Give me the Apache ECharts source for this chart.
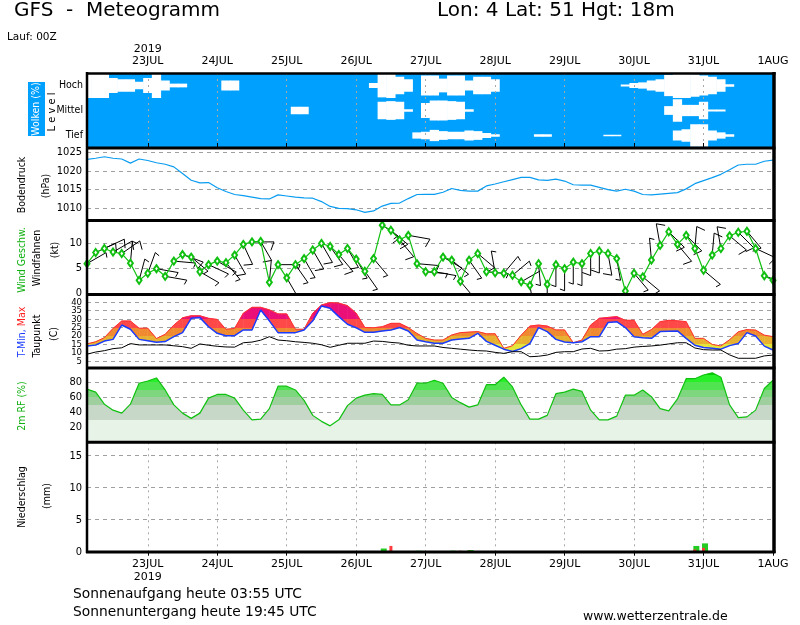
<!DOCTYPE html>
<html><head><meta charset="utf-8">
<script src="https://cdn.jsdelivr.net/npm/echarts@6/dist/echarts.min.js"></script>
<style>html,body{margin:0;padding:0;background:#fff}#c{width:800px;height:625px}</style>
</head><body><div id="c"></div>
<script>
// ---- time steps (hours after 22JUL 00Z) ----
const hours = [3,6,9,12,15,18,21,24,27,30,33,36,39,42,45,48,51,54,57,60,63,66,69,72,75,78,81,84,87,90,93,96,99,102,105,108,111,114,117,120,123,126,129,132,135,138,141,144,147,150,153,156,159,162,165,168,171,174,177,180,183,186,189,192,195,198,201,204,207,210,213,216,219,222,225,228,231,234,237,240];
const dayTicks = [24,48,72,96,120,144,168,192,216,240];
const dayLabels = ['23JUL','24JUL','25JUL','26JUL','27JUL','28JUL','29JUL','30JUL','31JUL','1AUG'];
const pressureTicks = [1010,1015,1020,1025];
const windTicks = [0,5,10];
const tempTicks = [5,10,15,20,25,30,35,40];
const tempLabelsA = [5,15,25,35];
const tempLabelsB = [10,20,30,40];
const rhTicks = [20,40,60,80];
const precipTicks = [0,5,10,15];
const cloudLevels = ['Tief','Mittel','Hoch'];
const tempBandLimits = [15,20,25,30];
const tempBandColors = ['#e4e43c','#e8b030','#f08a30','#ff4848','#ea1078'];

// ---- series values ----
const cloudHigh = [100,100,100,60,50,50,30,60,100,40, 15,15,0,0,0,0,40,40,0,0, 0,0,0,0,0,0,0,0,0,0, 0,0,0,20,95,100,70,50,0,80, 80,55,80,80,40,70,70,50,0,0, 0,0,0,0,0,0,0,0,0,0, 0,0,8,20,25,40,50,85,100,100, 90,80,70,50,10,0,0,0,0,0];
const cloudMid  = [0,0,0,0,0,0,0,0,0,0, 0,0,0,0,0,0,0,0,0,0, 0,0,0,0,30,30,0,0,0,0, 0,0,0,0,70,75,70,10,0,60, 80,80,75,70,10,0,0,0,0,0, 0,0,0,0,0,0,0,0,0,0, 0,0,0,0,0,0,0,35,90,45, 45,70,8,8,0,0,0,0,0,0];
const cloudLow  = [0,0,0,0,0,0,0,0,0,0, 0,0,0,0,0,0,0,0,0,0, 0,0,0,0,0,0,0,0,0,0, 0,0,0,0,0,0,0,0,25,30, 45,35,30,30,40,35,20,10,0,0, 0,0,10,10,0,0,0,0,0,0, 6,6,0,0,0,0,0,0,40,50, 90,90,40,25,10,0,0,0,0,0];
const pressure = [1023.1,1023.4,1023.8,1023.4,1023.2,1022.1,1023.2,1022.8,1022.2,1021.8,
 1021.1,1019.3,1017.5,1016.8,1016.9,1015.5,1014.5,1013.7,1013.4,1013.0,
 1012.6,1012.5,1013.6,1013.3,1013.0,1012.8,1012.7,1011.8,1010.5,1010.0,
 1009.9,1009.6,1008.9,1009.3,1010.6,1011.3,1011.4,1012.6,1013.7,1013.75,
 1013.75,1014.3,1015.3,1014.8,1014.6,1014.6,1016.0,1016.5,1017.1,1017.7,
 1018.3,1018.3,1017.6,1017.5,1017.8,1017.3,1016.3,1016.2,1016.2,1015.6,
 1015.0,1014.6,1015.1,1014.6,1013.7,1013.6,1013.8,1014.0,1014.2,1015.2,
 1016.6,1017.4,1018.2,1019.1,1020.3,1021.6,1021.8,1021.8,1022.6,1022.9];
const windSpeed = [5.9,8.1,8.9,8.2,7.9,6.0,2.6,4.0,4.9,3.4,
 6.4,7.7,7.2,4.3,5.7,6.4,6.1,7.6,9.7,10.2,
 10.3,2.2,5.7,3.1,5.7,6.9,8.6,9.9,9.3,7.7,
 8.9,6.8,4.4,6.9,13.5,12.5,10.6,11.5,5.9,4.3,
 4.3,7.2,6.6,2.4,6.6,7.9,4.3,4.1,4.0,3.6,
 2.3,1.6,5.9,1.8,5.7,4.9,6.2,5.9,7.9,8.4,
 7.9,6.9,0.5,4.0,3.3,6.6,9.5,12.2,9.7,11.5,
 8.9,4.6,7.6,8.9,11.4,12.1,12.3,8.9,3.5,2.6];
const windDir = [60,65,65,60,55, 5,15,20, 100,100,95,110,130, 120,115,120,140, 150,155,90,150, 5,90,150,
 145,150,150,150,145,140,150,150,145,140, 125,130,140, 100,95,95,100, 120,130,140,145,130,
 95,350,40,50,60, 170,175,180,180,180,180,180,180,180,170, 170,175,140,130, 355,350,
 135,140,135,5,130,5, 350,130,135,140,115,110,110];
const tMin = [14.1,14.7,17.0,18.0,26.5,24.0,18.0,17.2,16.3,16.7,
 19.6,22.0,30.5,30.9,25.5,21.6,20.2,20.2,23.6,23.6,
 35.4,29.0,22.0,22.0,22.0,23.6,29.0,37.8,36.4,31.5,
 27.0,24.9,22.2,22.2,23.0,23.6,25.0,23.0,17.6,16.6,
 15.7,15.7,17.6,18.2,18.6,21.6,16.8,14.5,12.2,10.8,
 12.5,15.5,25.0,22.6,18.0,16.5,16.0,16.6,19.6,19.6,
 28.0,28.5,25.0,19.6,19.0,18.6,22.6,22.8,23.0,18.6,
 14.5,13.2,12.7,12.2,14.3,15.5,22.0,20.0,14.0,11.7];
const tMax = [15.3,16.6,19.0,24.5,28.9,28.9,24.6,24.6,18.5,21.0,
 26.5,30.8,32.0,32.0,30.5,29.8,24.0,24.5,33.5,37.0,
 37.0,35.5,33.1,33.1,24.0,24.0,33.5,38.4,39.8,39.5,
 38.0,33.5,25.0,24.9,25.5,27.5,27.5,25.0,21.5,18.6,
 17.6,17.6,20.6,22.0,22.3,22.6,21.3,21.3,12.7,14.2,
 20.5,25.9,26.5,25.9,23.6,23.6,16.0,17.6,26.5,30.5,
 31.0,31.5,29.3,29.3,21.0,23.8,28.5,29.3,29.0,28.5,
 18.6,18.6,15.0,14.1,17.8,22.5,23.8,23.5,20.5,19.6];
const dewPoint = [9.2,10.5,11.3,12.5,13.0,15.5,14.7,14.7,14.7,14.7,
 14.2,13.7,12.7,15.3,14.5,13.9,13.5,13.4,16.0,16.4,
 17.5,19.6,17.6,17.2,16.6,16.2,15.7,14.8,13.3,14.5,
 15.7,15.7,15.7,17.0,16.8,16.2,15.8,14.5,14.1,14.1,
 14.1,13.2,12.7,12.2,11.7,11.3,11.1,10.3,9.7,10.7,
 10.7,7.7,8.0,8.7,10.3,10.7,10.7,12.3,12.7,11.1,
 11.3,12.2,12.5,13.4,13.8,14.1,14.6,15.3,16.0,16.0,
 12.9,11.9,11.7,11.7,8.8,6.8,6.8,6.8,8.2,8.7];
const relHum = [71,67,51,43,39,51,79,82,86,70,
 50,39,32,39,59,64,64,59,43,30,
 31,45,75,75,70,56,36,28,22,30,
 49,59,63,65,64,50,50,57,79,79,
 83,79,60,53,47,50,77,77,87,74,
 50,31,31,36,65,67,71,68,43,30,
 30,35,63,63,70,61,45,42,58,85,
 85,90,93,87,50,33,34,43,72,83];
const precipGreen = [0,0,0,0,0,0,0,0,0,0, 0,0,0,0,0,0,0,0,0,0, 0,0,0,0,0,0,0,0,0,0, 0,0,0,0,0.5,0,0,0,0.15,0, 0,0,0.15,0,0.25,0,0,0,0,0, 0,0,0,0,0,0,0,0,0,0, 0,0,0,0,0,0,0,0,0,0, 0.9,1.3,0,0,0,0,0,0,0,0];
const precipRed   = [0,0,0,0,0,0,0,0,0,0, 0,0,0,0,0,0,0,0,0,0, 0,0,0,0,0,0,0,0,0,0, 0,0,0,0,0,0.9,0,0,0.1,0, 0.1,0,0,0.15,0.15,0,0,0,0,0, 0,0,0,0,0,0,0,0,0,0, 0,0,0,0,0,0,0,0,0,0, 0.35,0.6,0,0,0,0,0,0,0,0];

// ---- build ----
const F = "'DejaVu Sans', 'Liberation Sans', sans-serif";
const FC = "'DejaVu Sans Condensed','Liberation Sans Narrow','DejaVu Sans',sans-serif";
const pair = arr => hours.map((h, i) => [h, arr[i]]);
const dayLabel = v => dayLabels[dayTicks.indexOf(v)];
const BLUE = '#00a0ff';
const T_MIN_AX = 1.03, T_MAX_AX = 44.9;

const chart = echarts.init(document.getElementById('c'), null, {renderer: 'canvas', width: 800, height: 625});
const Lx = 87, Wd = 686;
const grid = [
  {left: Lx, width: Wd, top: 73, height: 75, show: true, backgroundColor: BLUE, borderWidth: 0},
  {left: Lx, width: Wd, top: 148, height: 72.5},
  {left: Lx, width: Wd, top: 220.5, height: 73},
  {left: Lx, width: Wd, top: 294, height: 74},
  {left: Lx, width: Wd, top: 367.5, height: 74.8},
  {left: Lx, width: Wd, top: 442.3, height: 109.4}
];
const hGrid = {show: true, lineStyle: {color: '#a0a0a0', type: [4, 4], width: 1}};
const vGrid = {show: true, lineStyle: {color: '#a8a8a8', type: [2, 4], width: 1}};
const xAxis = [0,1,2,3,4,5].map(i => ({type: 'value', gridIndex: i, min: 3, max: 240, show: false}));
Object.assign(xAxis[0], {show: true, position: 'top', z: 5,
  axisLine: {show: false},
  axisTick: {show: true, customValues: dayTicks, length: 5, lineStyle: {color: '#000'}},
  axisLabel: {customValues: dayTicks, formatter: v => (v === 24 ? '2019\n' : '') + dayLabel(v), margin: 6, color: '#000', fontSize: 11, fontFamily: F, lineHeight: 12},
  splitLine: vGrid});
Object.assign(xAxis[5], {show: true, position: 'bottom',
  axisLine: {show: false},
  axisTick: {show: true, customValues: dayTicks, length: 4, lineStyle: {color: '#000'}},
  axisLabel: {customValues: dayTicks, formatter: v => dayLabel(v) + (v === 24 ? '\n2019' : ''), margin: 6, color: '#000', fontSize: 11, fontFamily: F, lineHeight: 13},
  splitLine: vGrid});

function yAx(i, min, max, ticks, size, labelVals) {
  return {type: 'value', gridIndex: i, min, max, position: 'left',
    axisLine: {show: false},
    axisTick: {show: false, customValues: ticks},
    axisLabel: {customValues: labelVals || ticks, formatter: v => String(v), color: '#000', fontSize: size || 11,
      fontFamily: FC, margin: 5, hideOverlap: false, showMinLabel: true, showMaxLabel: true},
    splitLine: hGrid};
}
const yAxis = [
  {type: 'value', gridIndex: 0, min: 0, max: 3, position: 'left', axisLine: {show: false}, axisTick: {show: false, customValues: [0.5, 1.5, 2.5]},
    splitLine: {show: false}, axisLabel: {customValues: [0.5, 1.5, 2.5], formatter: v => cloudLevels[Math.floor(v)], color: '#000', fontSize: 10.5, fontFamily: FC, margin: 4}},
  yAx(1, 1006.73, 1026.15, pressureTicks),
  yAx(2, 0, 14.43, windTicks),
  yAx(3, T_MIN_AX, T_MAX_AX, tempTicks, 9.5, tempLabelsA),
  yAx(4, 0, 100, rhTicks),
  yAx(5, 0, 17.09, precipTicks),
  // second label column for the crowded temperature scale
  Object.assign(yAx(3, T_MIN_AX, T_MAX_AX, tempLabelsB, 9.5, tempLabelsB), {splitLine: {show: false}})
];

function cloudRender(center) {
  return function (params, api) {
    const t = api.value(0), c = api.value(1);
    if (!c) return null;
    const h = c / 200;
    const p1 = api.coord([t - 1.6, center + h]);
    const p2 = api.coord([t + 1.6, center - h]);
    const cs = params.coordSys;
    const r = echarts.graphic.clipRectByRect({x: p1[0], y: p1[1], width: p2[0] - p1[0], height: p2[1] - p1[1]},
      {x: cs.x, y: cs.y, width: cs.width, height: cs.height});
    return r ? {type: 'rect', shape: r, style: {fill: '#fff'}} : null;
  };
}
function barbRender(params, api) {
  const t = api.value(0), s = api.value(1), d = api.value(2);
  const p = api.coord([t, s]);
  const a = d * Math.PI / 180;
  const ux = Math.sin(a), uy = -Math.cos(a);
  const Ls = 22;
  const tip = [p[0] + ux * Ls, p[1] + uy * Ls];
  const ch = [{type: 'line', shape: {x1: p[0], y1: p[1], x2: tip[0], y2: tip[1]}, style: {stroke: '#000', lineWidth: 1}}];
  const rot = 110 * Math.PI / 180;
  const bx = ux * Math.cos(rot) - uy * Math.sin(rot), by = ux * Math.sin(rot) + uy * Math.cos(rot);
  let n = Math.round(s / 5), pos = 0;
  while (n > 0) {
    const len = n >= 2 ? 9 : 5;
    const b = [tip[0] - ux * pos, tip[1] - uy * pos];
    ch.push({type: 'line', shape: {x1: b[0], y1: b[1], x2: b[0] + bx * len, y2: b[1] + by * len}, style: {stroke: '#000', lineWidth: 1}});
    n -= n >= 2 ? 2 : 1;
    pos += 3;
  }
  return {type: 'group', children: ch};
}
// temperature band between T-Min and T-Max, coloured by absolute temperature
function bandRender(params, api) {
  const t0 = api.value(0), lo0 = api.value(1), hi0 = api.value(2);
  const t1 = api.value(3), lo1 = api.value(4), hi1 = api.value(5);
  const pts = [api.coord([t0, lo0]), api.coord([t1, lo1]), api.coord([t1, hi1]), api.coord([t0, hi0])];
  const yBot = api.coord([t0, T_MIN_AX])[1], yTop = api.coord([t0, T_MAX_AX])[1];
  const stops = [{offset: 0, color: tempBandColors[0]}];
  tempBandLimits.forEach((v, k) => {
    const o = (yBot - api.coord([t0, v])[1]) / (yBot - yTop);
    stops.push({offset: o, color: tempBandColors[k]});
    stops.push({offset: o, color: tempBandColors[k + 1]});
  });
  stops.push({offset: 1, color: tempBandColors[tempBandColors.length - 1]});
  const grad = {type: 'linear', x: 0, y: yBot, x2: 0, y2: yTop, global: true, colorStops: stops};
  return {type: 'polygon', shape: {points: pts}, style: {fill: grad, stroke: grad, lineWidth: 0.6}};
}

const series = [
  {type: 'custom', xAxisIndex: 0, yAxisIndex: 0, renderItem: cloudRender(2.5), data: pair(cloudHigh), clip: true},
  {type: 'custom', xAxisIndex: 0, yAxisIndex: 0, renderItem: cloudRender(1.5), data: pair(cloudMid), clip: true},
  {type: 'custom', xAxisIndex: 0, yAxisIndex: 0, renderItem: cloudRender(0.5), data: pair(cloudLow), clip: true},
  {type: 'line', xAxisIndex: 1, yAxisIndex: 1, data: pair(pressure), showSymbol: false, lineStyle: {color: '#0a9cf0', width: 1.2}},
  {type: 'custom', xAxisIndex: 2, yAxisIndex: 2, renderItem: barbRender, clip: true, data: hours.map((h, i) => [h, windSpeed[i], windDir[i]])},
  {type: 'line', xAxisIndex: 2, yAxisIndex: 2, data: pair(windSpeed), symbol: 'emptyDiamond', symbolSize: [5, 7],
    lineStyle: {color: '#10c010', width: 1.2}, itemStyle: {color: '#10c010', borderWidth: 1}},
  {type: 'custom', xAxisIndex: 3, yAxisIndex: 3, renderItem: bandRender, clip: true,
    data: hours.slice(0, -1).map((h, i) => [h, tMin[i], tMax[i], hours[i + 1], tMin[i + 1], tMax[i + 1]])},
  {type: 'line', xAxisIndex: 3, yAxisIndex: 3, data: pair(tMax), showSymbol: false, lineStyle: {color: '#ff3030', width: 1}},
  {type: 'line', xAxisIndex: 3, yAxisIndex: 3, data: pair(tMin), showSymbol: false, lineStyle: {color: '#1a3cff', width: 1.5}},
  {type: 'line', xAxisIndex: 3, yAxisIndex: 3, data: pair(dewPoint), showSymbol: false, lineStyle: {color: '#000', width: 1}},
  {type: 'line', xAxisIndex: 4, yAxisIndex: 4, data: pair(relHum), showSymbol: false, lineStyle: {color: '#10c010', width: 1.2}, areaStyle: {opacity: 1}},
  {type: 'bar', xAxisIndex: 5, yAxisIndex: 5, data: pair(precipGreen), barWidth: 6, barGap: '-100%', itemStyle: {color: '#22cc22'}},
  {type: 'bar', xAxisIndex: 5, yAxisIndex: 5, data: pair(precipRed), barWidth: 3, barGap: '-100%', itemStyle: {color: '#ff3b3b'}}
];

const visualMap = [
  {show: false, type: 'piecewise', seriesIndex: 10, dimension: 1, pieces: [
    {lt: 30, color: '#e8f3e8'}, {gte: 30, lt: 50, color: '#c8d8c8'}, {gte: 50, lt: 60, color: '#9fcf9f'},
    {gte: 60, lt: 70, color: '#7ed67e'}, {gte: 70, lt: 80, color: '#50e450'}, {gte: 80, lt: 90, color: '#28f028'},
    {gte: 90, color: '#00d000'}]}
];

function vtext(x, y, text, color, size) {
  return {type: 'text', x, y, rotation: Math.PI / 2, z: 20,
    style: {text, fill: color || '#000', font: (size || 10.5) + 'px ' + FC, align: 'center', verticalAlign: 'middle'}};
}
function ln(x1, y1, x2, y2, w) {
  return {type: 'line', z: 30, shape: {x1, y1, x2, y2}, style: {stroke: '#000', lineWidth: w}};
}
function txt(x, y, text, size, align) {
  return {type: 'text', x, y, z: 20, style: {text, fill: '#000', font: size + 'px ' + F, align: align || 'left', verticalAlign: 'top'}};
}
const graphic = [
  txt(14, 1, 'GFS  -  Meteogramm', 20),
  txt(437, 1, 'Lon: 4 Lat: 51 Hgt: 18m', 20),
  txt(7, 32, 'Lauf: 00Z', 10.5),
  {type: 'rect', z: 19, shape: {x: 28, y: 82, width: 17, height: 54}, style: {fill: BLUE}},
  vtext(36.5, 109, 'Wolken (%)', '#fff'),
  vtext(52, 112, 'L e v e l', '#000', 11),
  vtext(22, 185, 'Bodendruck'),
  vtext(46, 186, '(hPa)'),
  vtext(22, 260, 'Wind Geschw.', '#10b010'),
  vtext(37.5, 258, 'Windfahnen'),
  vtext(55, 250, '(kt)'),
  {type: 'text', x: 22, y: 332, rotation: Math.PI / 2, z: 20,
    style: {text: '{b|T-Min,} {r|Max}', font: '10.5px ' + FC, align: 'center', verticalAlign: 'middle',
      rich: {b: {fill: '#1a3cff', font: '10.5px ' + FC}, r: {fill: '#ff2020', font: '10.5px ' + FC}}}},
  vtext(37.5, 336, 'Taupunkt'),
  vtext(54, 334, '(C)'),
  vtext(22, 406, '2m RF (%)', '#10b010'),
  vtext(22, 497, 'Niederschlag'),
  vtext(47, 496, '(mm)'),
  txt(73, 587, 'Sonnenaufgang heute 03:55 UTC', 13.8),
  txt(73, 605, 'Sonnenuntergang heute 19:45 UTC', 13.8),
  txt(583, 610, 'www.wetterzentrale.de', 12.5),
  ln(87, 72, 87, 553, 2.5),
  ln(774, 72, 774, 553, 3.5),
  ln(86, 73.5, 775.5, 73.5, 2.5),
  ln(86, 148, 775.5, 148, 3),
  ln(86, 220.5, 775.5, 220.5, 3),
  ln(86, 294.5, 775.5, 294.5, 3),
  ln(86, 368, 775.5, 368, 3),
  ln(86, 442.3, 775.5, 442.3, 3),
  ln(86, 552, 775.5, 552, 3)
];

chart.setOption({animation: false, backgroundColor: '#fff', grid, xAxis, yAxis, series, visualMap, graphic});
</script>
</body></html>
